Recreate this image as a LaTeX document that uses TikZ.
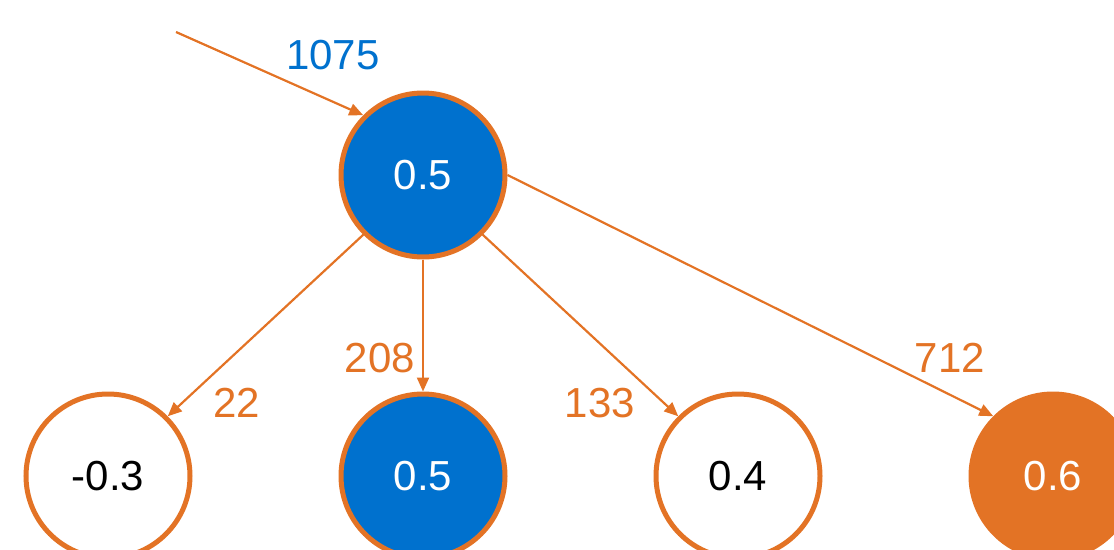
\documentclass[tikz,border=0pt]{standalone}
\usepackage{fontspec}
\setmainfont{Liberation Sans}
\usetikzlibrary{arrows.meta}
\definecolor{cblue}{HTML}{0071CE}
\definecolor{corange}{HTML}{E37325}
\begin{document}
\begin{tikzpicture}[x=1pt,y=-1pt,
  nd/.style={circle,draw=corange,line width=5pt,minimum size=164pt,inner sep=0pt,font=\fontsize{42}{44}\selectfont},
  bluend/.style={nd,fill=cblue,text=white},
  whitend/.style={nd,fill=white,text=black},
  orangend/.style={nd,fill=corange,text=white},
  edge/.style={draw=corange,line width=2.2pt,-{Triangle[length=14pt,width=12pt]}},
  lbl/.style={font=\fontsize{42}{44}\selectfont,text=corange,inner sep=0pt}]
\useasboundingbox (0,0) rectangle (1114,549);
\clip (0,0) rectangle (1114,549);
\node[bluend] (top) at (423,175) {0.5};
\node[whitend] (n1) at (108,476) {-0.3};
\node[bluend] (n2) at (423,476) {0.5};
\node[whitend] (n3) at (738,476) {0.4};
\node[orangend] (n4) at (1053,476) {0.6};
\coordinate (in) at (176,32);
\draw[edge] (in) -- (top.north west);
\draw[edge] (top.south west) -- (n1.north east);
\draw[edge] (top.south) -- (n2.north);
\draw[edge] (top.south east) -- (n3.north west);
\draw[edge] (top.east) -- (n4.north west);
\node[lbl,text=cblue] (l0) at (333,55) {1075};
\node[lbl] (l1) at (237,403) {22};
\node[lbl] (l2) at (380,358) {208};
\node[lbl] (l3) at (600,403) {133};
\node[lbl] (l4) at (950,358) {712};
\end{tikzpicture}
\end{document}
